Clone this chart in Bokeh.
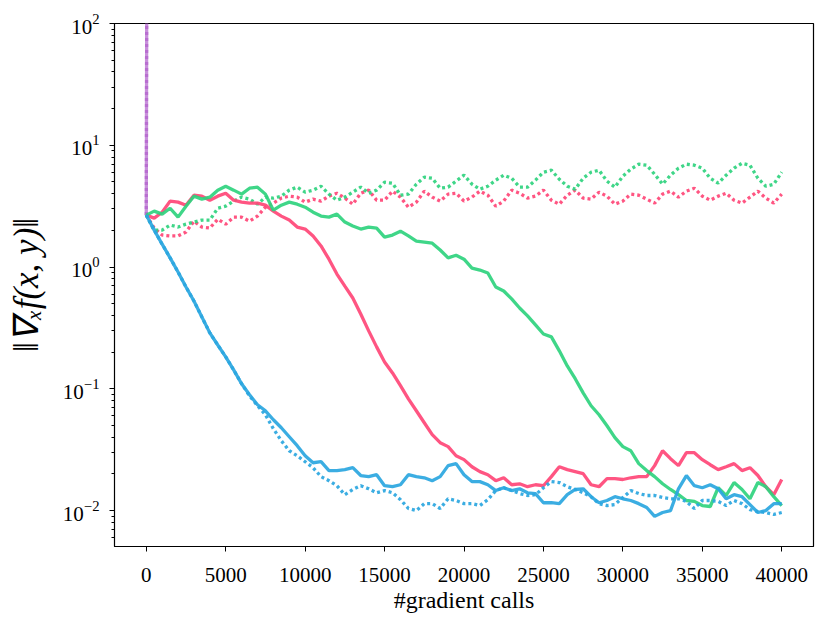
from bokeh.plotting import figure
from bokeh.models import Range1d, SingleIntervalTicker
from bokeh.embed import file_html
from bokeh.resources import INLINE

# gradient calls (every 500)
calls = [500 * i for i in range(81)]

blue_solid = [2.67, 2.01, 1.54, 1.19, 0.910, 0.686, 0.526, 0.389, 0.288, 0.229,
              0.183, 0.143, 0.110, 0.0893, 0.0740, 0.0660, 0.0557, 0.0479, 0.0404, 0.0341,
              0.0282, 0.0247, 0.0252, 0.0213, 0.0213, 0.0217, 0.0225, 0.0194, 0.0190, 0.0197,
              0.0160, 0.0157, 0.0163, 0.0197, 0.0190, 0.0186, 0.0176, 0.0190, 0.0234, 0.0243,
              0.0197, 0.0173, 0.0173, 0.0163, 0.0146, 0.0154, 0.0146, 0.0151, 0.0140, 0.0138,
              0.0116, 0.0116, 0.0114, 0.0135, 0.0149, 0.0151, 0.0130, 0.0116, 0.0121, 0.0130,
              0.0125, 0.0121, 0.0114, 0.0106, 0.00896, 0.00964, 0.0100, 0.0151, 0.0194, 0.0160,
              0.0154, 0.0163, 0.0151, 0.0125, 0.0135, 0.0130, 0.0112, 0.00964, 0.0100, 0.0114,
              0.0114]

blue_dotted = [2.67, 2.01, 1.54, 1.19, 0.910, 0.686, 0.526, 0.389, 0.288, 0.229,
               0.183, 0.143, 0.110, 0.0876, 0.0726, 0.0612, 0.0470, 0.0375, 0.0310, 0.0282,
               0.0252, 0.0225, 0.0190, 0.0176, 0.0160, 0.0135, 0.0149, 0.0160, 0.0151, 0.0140,
               0.0146, 0.0140, 0.0123, 0.0104, 0.0100, 0.0114, 0.0114, 0.0104, 0.0125, 0.0121,
               0.0114, 0.0114, 0.0110, 0.0123, 0.0146, 0.0154, 0.0146, 0.0138, 0.0133, 0.0135,
               0.0154, 0.0173, 0.0170, 0.0157, 0.0149, 0.0140, 0.0130, 0.0114, 0.0110, 0.0112,
               0.0128, 0.0146, 0.0138, 0.0133, 0.0133, 0.0128, 0.0125, 0.0125, 0.0119, 0.0104,
               0.0121, 0.0121, 0.0119, 0.0110, 0.0121, 0.0114, 0.0102, 0.00981, 0.00964, 0.00929,
               0.00964]

red_solid = [2.67, 2.52, 2.82, 3.48, 3.41, 3.22, 3.89, 3.82, 3.54, 3.82,
             4.04, 3.54, 3.41, 3.35, 3.35, 3.22, 2.88, 2.62, 2.43, 2.13,
             2.05, 1.80, 1.49, 1.16, 0.876, 0.698, 0.557, 0.412, 0.299, 0.221,
             0.166, 0.135, 0.106, 0.0828, 0.0660, 0.0526, 0.0420, 0.0361, 0.0335, 0.0282,
             0.0262, 0.0229, 0.0209, 0.0197, 0.0176, 0.0186, 0.0163, 0.0166, 0.0157, 0.0163,
             0.0160, 0.0190, 0.0229, 0.0217, 0.0209, 0.0201, 0.0163, 0.0157, 0.0183, 0.0183,
             0.0180, 0.0186, 0.0190, 0.0190, 0.0234, 0.0310, 0.0267, 0.0234, 0.0299, 0.0299,
             0.0262, 0.0238, 0.0217, 0.0229, 0.0243, 0.0213, 0.0225, 0.0194, 0.0157, 0.0135,
             0.0180]

red_dotted = [2.67, 2.09, 1.83, 1.80, 1.80, 1.94, 2.38, 2.13, 2.09, 2.47,
              2.25, 2.57, 2.57, 2.38, 2.62, 3.10, 3.35, 3.68, 3.82, 3.75,
              3.41, 3.61, 3.48, 3.82, 4.04, 3.68, 3.28, 4.04, 4.28, 3.54,
              3.54, 4.20, 3.75, 3.10, 3.41, 4.20, 3.75, 3.48, 3.97, 4.04,
              3.48, 3.75, 4.20, 3.89, 3.16, 3.48, 4.28, 4.04, 3.68, 3.82,
              4.28, 3.54, 3.28, 3.89, 4.28, 3.68, 3.61, 4.12, 3.82, 3.28,
              3.48, 3.97, 3.89, 3.61, 3.35, 3.97, 4.20, 3.75, 4.20, 4.44,
              3.82, 3.54, 3.82, 4.04, 3.54, 3.35, 3.75, 4.20, 3.68, 3.35,
              3.97]

green_solid = [2.67, 2.88, 2.72, 3.04, 2.57, 3.16, 3.82, 3.61, 3.75, 4.28,
               4.61, 4.28, 3.97, 4.44, 4.53, 3.97, 2.93, 3.22, 3.41, 3.28,
               3.10, 2.82, 2.62, 2.57, 2.72, 2.34, 2.17, 2.05, 2.13, 2.09,
               1.76, 1.83, 1.97, 1.80, 1.63, 1.60, 1.57, 1.38, 1.19, 1.25,
               1.16, 0.981, 0.945, 0.893, 0.686, 0.636, 0.547, 0.461, 0.397, 0.335,
               0.282, 0.267, 0.205, 0.154, 0.121, 0.0927, 0.0726, 0.0612, 0.0497, 0.0397,
               0.0335, 0.0310, 0.0243, 0.0213, 0.0190, 0.0166, 0.0149, 0.0135, 0.0121, 0.0119,
               0.0110, 0.0108, 0.0154, 0.0133, 0.0170, 0.0149, 0.0125, 0.0170, 0.0157, 0.0130,
               0.0110]

green_dotted = [2.67, 2.01, 2.01, 2.21, 2.13, 2.25, 2.34, 2.43, 2.43, 3.04,
                3.16, 3.48, 3.75, 3.61, 3.28, 3.75, 3.68, 3.82, 4.28, 4.53,
                4.12, 4.28, 4.61, 3.97, 3.54, 3.75, 4.12, 4.53, 4.04, 4.28,
                4.97, 4.88, 3.89, 3.97, 4.79, 5.47, 5.36, 4.44, 4.53, 5.07,
                5.68, 4.79, 4.36, 4.61, 5.17, 5.68, 5.36, 4.53, 4.53, 5.17,
                6.01, 6.24, 5.26, 4.61, 4.36, 5.36, 6.01, 6.24, 5.07, 4.53,
                5.57, 6.36, 6.99, 6.86, 5.78, 4.79, 5.68, 6.48, 6.99, 6.86,
                6.48, 5.36, 4.88, 5.68, 6.48, 7.12, 6.86, 5.36, 4.61, 4.79,
                6.01]

# diverging run: blows up right after the first evaluation
purple_calls = [0, 500]
purple_vals = [2.67, 1e30]

RED = "#ff4777"
GREEN = "#2fd27e"
BLUE = "#2aa6df"
PURPLE = "#b05fcc"
FONT = "Liberation Serif"

p = figure(frame_width=699, frame_height=523, y_axis_type="log",
           x_range=Range1d(-2000, 42000), y_range=Range1d(0.00507, 100),
           output_backend="svg", toolbar_location=None,
           min_border_left=114, min_border_top=23, min_border_right=10,
           min_border_bottom=76)

p.xgrid.visible = False
p.ygrid.visible = False
p.outline_line_color = "black"
p.outline_line_width = 1.2
p.background_fill_color = "white"
p.border_fill_color = "white"

LW = 3.3
ALPHA = 0.92
DOT = "3 3"

p.line(purple_calls, purple_vals, line_color=PURPLE, line_width=LW, line_alpha=0.7)
p.line(purple_calls, purple_vals, line_color=PURPLE, line_width=LW, line_alpha=0.7, line_dash=DOT)

p.line(calls, red_dotted, line_color=RED, line_width=LW, line_alpha=ALPHA, line_dash=DOT)
p.line(calls, green_dotted, line_color=GREEN, line_width=LW, line_alpha=ALPHA, line_dash=DOT)
p.line(calls, red_solid, line_color=RED, line_width=LW, line_alpha=ALPHA)
p.line(calls, green_solid, line_color=GREEN, line_width=LW, line_alpha=ALPHA)
p.line(calls, blue_dotted, line_color=BLUE, line_width=LW, line_alpha=ALPHA, line_dash=DOT)
p.line(calls, blue_solid, line_color=BLUE, line_width=LW, line_alpha=ALPHA)

xa = p.xaxis[0]
xa.ticker = SingleIntervalTicker(interval=5000, num_minor_ticks=0)
xa.axis_label = "#gradient calls"
xa.axis_label_text_font = FONT
xa.axis_label_text_font_style = "normal"
xa.axis_label_text_font_size = "24px"
xa.axis_label_text_color = "black"
xa.axis_label_standoff = 2
xa.major_label_text_font = FONT
xa.major_label_text_font_size = "21px"
xa.major_label_text_color = "black"
xa.major_label_standoff = 16
xa.major_tick_out = 5
xa.major_tick_in = 0
xa.minor_tick_line_color = None
xa.axis_line_color = "black"
xa.major_tick_line_color = "black"

ya = p.yaxis[0]
ya.axis_label = "‖∇ₓf(x, y)‖"
ya.axis_label_text_font = FONT
ya.axis_label_text_font_style = "italic"
ya.axis_label_text_font_size = "35px"
ya.axis_label_text_color = "black"
ya.axis_label_standoff = 14
ya.major_label_text_font = FONT
ya.major_label_text_font_size = "21px"
ya.major_label_text_color = "black"
ya.major_label_standoff = 10
ya.major_tick_out = 5
ya.major_tick_in = 0
ya.minor_tick_out = 3
ya.minor_tick_in = 0
ya.axis_line_color = "black"
ya.major_tick_line_color = "black"
ya.minor_tick_line_color = "black"

open("out.html", "w").write(file_html(p, INLINE))
